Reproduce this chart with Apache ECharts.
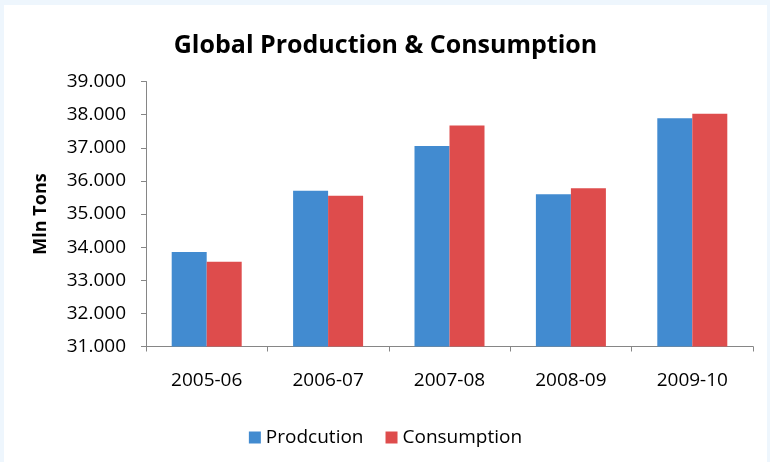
<!DOCTYPE html>
<html>
<head>
<meta charset="utf-8">
<script src="https://cdn.jsdelivr.net/npm/echarts@6/dist/echarts.min.js"></script>
<style>
  html, body { margin: 0; padding: 0; background: #eef6fd; }
  #frame { position: absolute; left: 0; top: 0; width: 770px; height: 462px; background: #eef6fd; }
  #chart { position: absolute; left: 4px; top: 5px; width: 763px; height: 457px; background: #ffffff; }
</style>
</head>
<body>
<div id="frame"></div>
<div id="chart"></div>
<script>
const categories = ['2005-06', '2006-07', '2007-08', '2008-09', '2009-10'];
const production = [33850, 35700, 37050, 35600, 37890];
const consumption = [33560, 35550, 37670, 35780, 38030];
const seriesNames = ['Prodcution', 'Consumption'];
const titleText = 'Global Production & Consumption';
const yAxisName = 'Mln Tons';

const chart = echarts.init(document.getElementById('chart'), null, { renderer: 'canvas' });
const font = '"Open Sans", "Noto Sans", sans-serif';
chart.setOption({
  animation: false,
  backgroundColor: '#ffffff',
  title: {
    text: titleText,
    left: 'center',
    top: 23,
    textStyle: { fontFamily: font, fontWeight: 'bold', fontSize: 25, color: '#000000' }
  },
  legend: {
    data: seriesNames,
    bottom: 10,
    left: 'center',
    itemWidth: 12,
    itemHeight: 12,
    itemGap: 22,
    icon: 'rect',
    textStyle: { fontFamily: font, fontSize: 19, color: '#000000', padding: [0, 0, 0, 0] }
  },
  grid: { left: 142, right: 14, top: 76.5, bottom: 115.5, containLabel: false },
  xAxis: {
    type: 'category',
    data: categories,
    axisLine: { lineStyle: { color: '#868686', width: 1 } },
    axisTick: { show: true, length: 5, lineStyle: { color: '#868686' } },
    axisLabel: { fontFamily: font, fontSize: 19, color: '#000000', margin: 25 }
  },
  yAxis: {
    type: 'value',
    min: 31000,
    max: 39000,
    interval: 1000,
    name: yAxisName,
    nameLocation: 'middle',
    nameGap: 96,
    nameRotate: 90,
    nameTextStyle: { fontFamily: font, fontWeight: 'bold', fontSize: 18, color: '#000000' },
    axisLine: { show: true, lineStyle: { color: '#868686', width: 1 } },
    axisTick: { show: true, length: 5, lineStyle: { color: '#868686' } },
    splitLine: { show: false },
    axisLabel: {
      fontFamily: font, fontSize: 19, color: '#000000', margin: 20,
      formatter: function (v) { return (v / 1000).toFixed(3); }
    }
  },
  series: [
    {
      name: seriesNames[0], type: 'bar', data: production,
      barWidth: 35, barGap: '0%',
      itemStyle: { color: '#428bd0' }
    },
    {
      name: seriesNames[1], type: 'bar', data: consumption,
      barWidth: 35, barGap: '0%',
      itemStyle: { color: '#de4c4c' }
    }
  ]
});
</script>
</body>
</html>
